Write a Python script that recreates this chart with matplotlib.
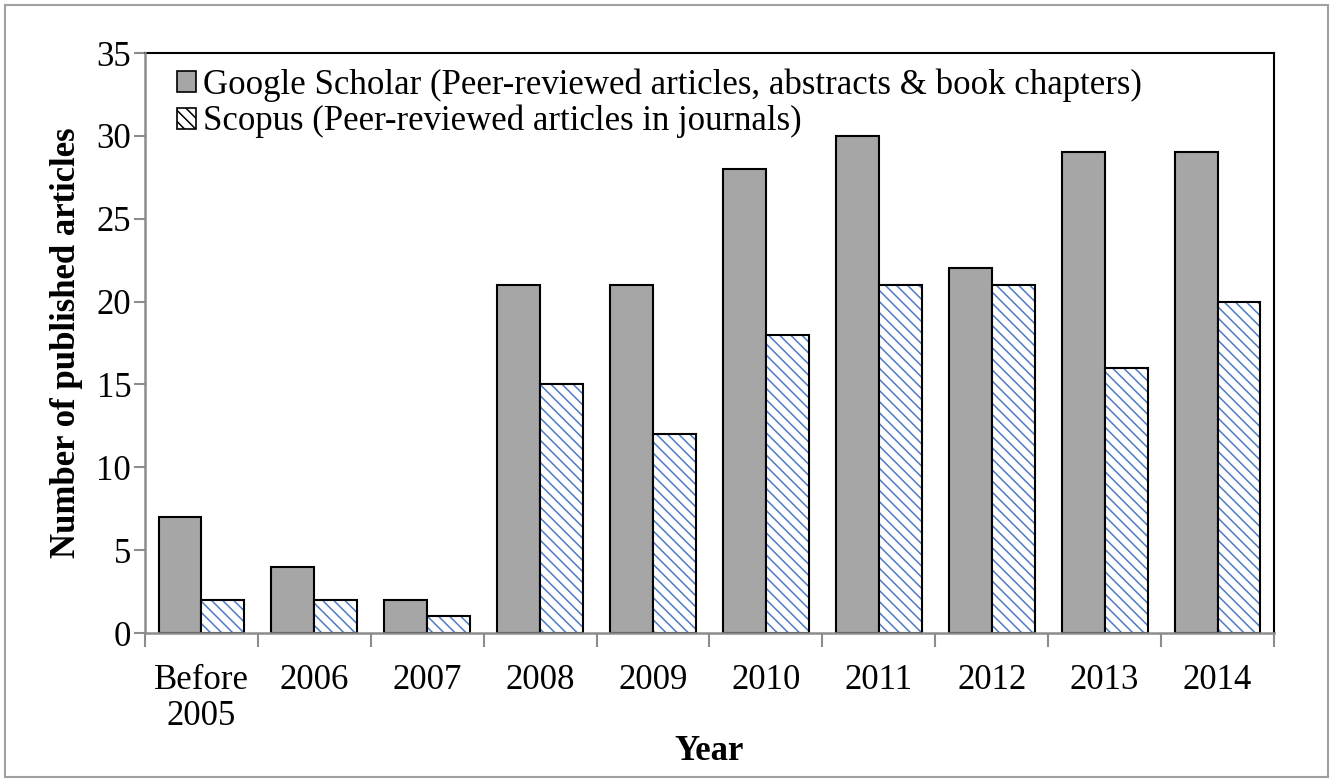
#!/usr/bin/env python3
"""Published articles per year: Google Scholar vs Scopus (grouped bars)."""

import numpy as np
import matplotlib.pyplot as plt
from matplotlib.patches import Rectangle, Patch

plt.rcParams.update({
    'font.family': ['Liberation Serif', 'DejaVu Serif'],
    'font.size': 25,
    'hatch.linewidth': 1.1,
})

# ========================================================================
# Data
# ========================================================================
years = ['Before\n2005', '2006', '2007', '2008', '2009',
         '2010', '2011', '2012', '2013', '2014']
google_scholar = [7, 4, 2, 21, 21, 28, 30, 22, 29, 29]
scopus = [2, 2, 1, 15, 12, 18, 21, 21, 16, 20]

gs_label = 'Google Scholar (Peer-reviewed articles, abstracts & book chapters)'
sc_label = 'Scopus (Peer-reviewed articles in journals)'


def main():
    fig = plt.figure(figsize=(13.33, 7.82), dpi=100)
    ax = fig.add_axes([0.1088, 0.1905, 0.8469, 0.7417])

    x = np.arange(len(years))
    w = 0.38
    gray = '#A6A6A6'
    hatch_blue = '#4F7BC6'

    ax.bar(x - w / 2, google_scholar, width=w, color=gray,
           edgecolor='black', linewidth=1.5, zorder=3)
    # hatch drawn in blue first, then black outline on top
    ax.bar(x + w / 2, scopus, width=w, color='white', edgecolor=hatch_blue,
           hatch='\\\\\\', linewidth=0, zorder=3)
    ax.bar(x + w / 2, scopus, width=w, fill=False,
           edgecolor='black', linewidth=1.5, zorder=4)

    ax.set_xlim(-0.5, len(years) - 0.5)
    ax.set_ylim(0, 35)
    ax.set_yticks(np.arange(0, 36, 5))

    ax.set_xticks(x)
    ax.set_xticklabels(years, linespacing=1.12)
    ax.set_xticks(np.arange(-0.5, len(years), 1.0), minor=True)
    ax.tick_params(axis='x', which='major', length=0, pad=22)
    ax.tick_params(axis='x', which='minor', length=10, width=1.5,
                   color='#8C8C8C', direction='out')
    ax.tick_params(axis='y', length=8, width=1.5, color='#8C8C8C',
                   direction='out', pad=2)

    for side in ('left', 'bottom'):
        ax.spines[side].set_color('#8C8C8C')
        ax.spines[side].set_linewidth(1.8)
        ax.spines[side].set_zorder(5)
    for side in ('top', 'right'):
        ax.spines[side].set_color('black')
        ax.spines[side].set_linewidth(1.5)

    ax.set_xlabel('Year', fontweight='bold', labelpad=2)
    ax.set_ylabel('Number of published articles', fontweight='bold', labelpad=10)

    handles = [
        Patch(facecolor=gray, edgecolor='black', linewidth=1.2),
        Patch(facecolor='white', edgecolor=hatch_blue, hatch='\\\\\\',
              linewidth=1.2),
    ]
    leg = ax.legend(handles, [gs_label, sc_label], loc='upper left',
                    bbox_to_anchor=(0.008, 1.012), frameon=False,
                    handlelength=0.55, handleheight=0.55, handletextpad=0.2,
                    labelspacing=0.08, borderaxespad=0.25, fontsize=25)
    leg.legend_handles[1].set_edgecolor('black')

    # outer chart border
    fig.patches.append(Rectangle((0.004, 0.006), 0.992, 0.988,
                                 transform=fig.transFigure, fill=False,
                                 edgecolor='#A0A0A0', linewidth=1.5))

    fig.savefig('out.png', dpi=100, facecolor='white')
    plt.close(fig)


if __name__ == "__main__":
    main()
